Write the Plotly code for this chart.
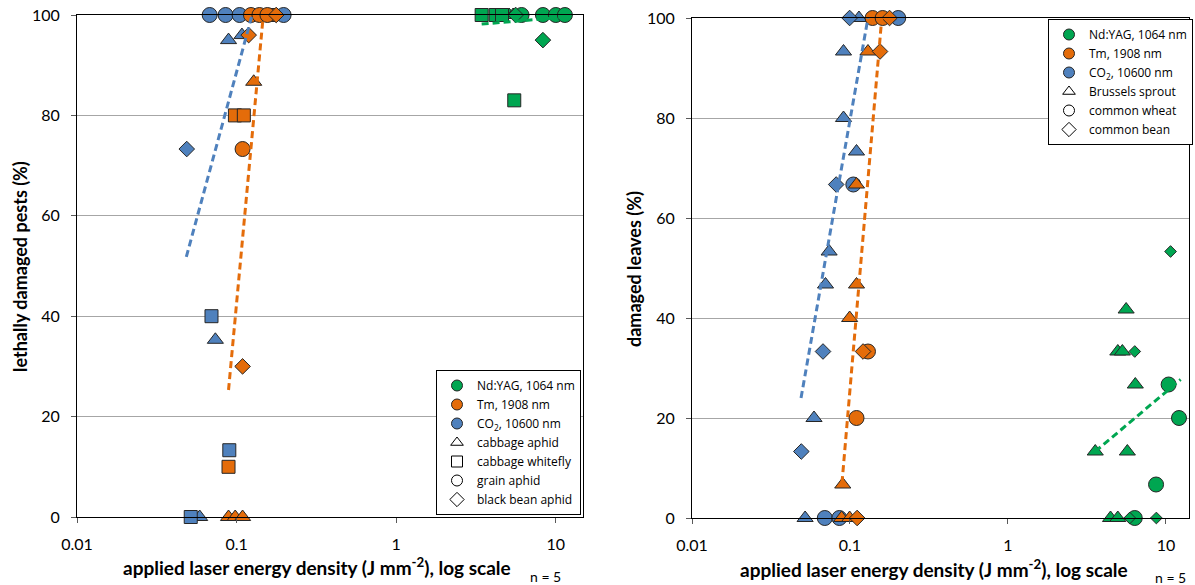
import math
import plotly.graph_objects as go

# ---------------- data: left panel (lethally damaged pests) ----------------
pest_species = ["cabbage aphid", "cabbage whitefly", "grain aphid", "black bean aphid"]

pests_ndyag_x = [4.7, 5.1, 5.4, 3.43, 4.2, 4.6, 5.49, 6.1, 8.3, 10.0, 11.4, 5.6, 8.3]
pests_ndyag_y = [100, 100, 100, 100, 100, 100, 83, 100, 100, 100, 100, 100, 95]
pests_ndyag_s = ["cabbage aphid"] * 3 + ["cabbage whitefly"] * 4 + ["grain aphid"] * 4 + ["black bean aphid"] * 2

pests_tm_x = [0.128, 0.089, 0.098, 0.109, 0.0976, 0.111, 0.089, 0.165, 0.123, 0.139, 0.156, 0.109, 0.119, 0.177, 0.109]
pests_tm_y = [86.7, 0, 0, 0, 80, 80, 10, 100, 100, 100, 100, 73.3, 96, 100, 30]
pests_tm_s = ["cabbage aphid"] * 4 + ["cabbage whitefly"] * 4 + ["grain aphid"] * 4 + ["black bean aphid"] * 3

pests_co2_x = [0.089, 0.108, 0.0736, 0.0587, 0.0696, 0.090, 0.0516, 0.0678, 0.0853, 0.1044, 0.197, 0.0487]
pests_co2_y = [95, 96, 35.3, 0, 40, 13.3, 0, 100, 100, 100, 100, 73.3]
pests_co2_s = ["cabbage aphid"] * 4 + ["cabbage whitefly"] * 3 + ["grain aphid"] * 4 + ["black bean aphid"]

pests_trend_co2_x = [0.0484, 0.124]
pests_trend_co2_y = [51.8, 99.6]
pests_trend_tm_x = [0.089, 0.1466]
pests_trend_tm_y = [25.3, 99.6]
pests_trend_ndyag_x = [3.43, 10.7]
pests_trend_ndyag_y = [98.2, 99.5]

# ---------------- data: right panel (damaged leaves) ----------------
leaf_species = ["Brussels sprout", "common wheat", "common bean"]

leaves_co2_x = [0.114, 0.091, 0.091, 0.110, 0.0738, 0.070, 0.0592, 0.052, 0.202, 0.105, 0.0693, 0.0857, 0.0995, 0.0818, 0.0675, 0.0492]
leaves_co2_y = [100, 93.3, 80, 73.3, 53.3, 46.7, 20, 0, 100, 66.7, 0, 0, 100, 66.7, 33.3, 13.3]
leaves_co2_s = ["Brussels sprout"] * 8 + ["common wheat"] * 4 + ["common bean"] * 4

leaves_tm_x = [0.130, 0.110, 0.110, 0.0995, 0.090, 0.0885, 0.0995, 0.139, 0.161, 0.130, 0.110, 0.178, 0.155, 0.121, 0.111]
leaves_tm_y = [93.3, 66.7, 46.7, 40, 6.7, 0, 0, 100, 100, 33.3, 20, 100, 93.3, 33.3, 0]
leaves_tm_s = ["Brussels sprout"] * 7 + ["common wheat"] * 4 + ["common bean"] * 4

leaves_ndyag_x = [5.6, 4.96, 5.3, 6.4, 3.57, 5.7, 4.46, 4.96, 10.4, 12.1, 8.66, 6.35, 10.7, 6.35, 5.9, 8.7]
leaves_ndyag_y = [41.7, 33.3, 33.3, 26.7, 13.3, 13.3, 0, 0, 26.7, 20, 6.7, 0, 53.3, 33.3, 0, 0]
leaves_ndyag_s = ["Brussels sprout"] * 8 + ["common wheat"] * 4 + ["common bean"] * 4

leaves_trend_co2_x = [0.049, 0.130]
leaves_trend_co2_y = [24, 100]
leaves_trend_tm_x = [0.089, 0.159]
leaves_trend_tm_y = [7, 100]
leaves_trend_ndyag_x = [3.57, 12.4]
leaves_trend_ndyag_y = [13.3, 27.7]

laser_names = ["Nd:YAG, 1064 nm", "Tm, 1908 nm", "CO<sub>2</sub>, 10600 nm"]
x_tick_vals = [0.01, 0.1, 1, 10]
x_tick_text = ["0.01", "0.1", "1", "10"]
y_tick_vals = [0, 20, 40, 60, 80, 100]

# ---------------- styling ----------------
GREEN = "#00A651"
ORANGE = "#E46C0A"
BLUE = "#4F81BD"
EDGE = "#262626"
FONT = "Lato"
LEGFONT = "Open Sans"

pest_symbol = {"cabbage aphid": "triangle-up", "cabbage whitefly": "square",
               "grain aphid": "circle", "black bean aphid": "diamond"}
pest_size = {"cabbage aphid": 14, "cabbage whitefly": 13, "grain aphid": 15, "black bean aphid": 12}
leaf_symbol = {"Brussels sprout": "triangle-up", "common wheat": "circle", "common bean": "diamond"}
leaf_size = {"Brussels sprout": 14, "common wheat": 15, "common bean": 12}

fig = go.Figure()


def add_points(xs, ys, ss, species, symbols, sizes, color, xa, ya, small_diamond=False):
    for sp in species:
        px = [x for x, s in zip(xs, ss) if s == sp]
        py = [y for y, s in zip(ys, ss) if s == sp]
        if not px:
            continue
        size = sizes[sp]
        if small_diamond and symbols[sp] == "diamond":
            size = 9
        fig.add_trace(go.Scatter(
            x=px, y=py, mode="markers", xaxis=xa, yaxis=ya, showlegend=False,
            cliponaxis=False,
            marker=dict(symbol=symbols[sp], size=size, color=color,
                        line=dict(color=EDGE, width=1))))


def add_trend(xs, ys, color, xa, ya):
    fig.add_trace(go.Scatter(x=xs, y=ys, mode="lines", xaxis=xa, yaxis=ya,
                             showlegend=False, cliponaxis=False,
                             line=dict(color=color, width=3, dash="7px,4px")))


# left panel
add_points(pests_co2_x, pests_co2_y, pests_co2_s, pest_species, pest_symbol, pest_size, BLUE, "x", "y")
add_points(pests_tm_x, pests_tm_y, pests_tm_s, pest_species, pest_symbol, pest_size, ORANGE, "x", "y")
add_points(pests_ndyag_x, pests_ndyag_y, pests_ndyag_s, pest_species, pest_symbol, pest_size, GREEN, "x", "y")
add_trend(pests_trend_co2_x, pests_trend_co2_y, BLUE, "x", "y")
add_trend(pests_trend_tm_x, pests_trend_tm_y, ORANGE, "x", "y")
add_trend(pests_trend_ndyag_x, pests_trend_ndyag_y, GREEN, "x", "y")

# right panel
add_points(leaves_co2_x, leaves_co2_y, leaves_co2_s, leaf_species, leaf_symbol, leaf_size, BLUE, "x2", "y2")
add_points(leaves_tm_x, leaves_tm_y, leaves_tm_s, leaf_species, leaf_symbol, leaf_size, ORANGE, "x2", "y2")
add_points(leaves_ndyag_x, leaves_ndyag_y, leaves_ndyag_s, leaf_species, leaf_symbol, leaf_size, GREEN, "x2", "y2",
           small_diamond=True)
add_trend(leaves_trend_co2_x, leaves_trend_co2_y, BLUE, "x2", "y2")
add_trend(leaves_trend_tm_x, leaves_trend_tm_y, ORANGE, "x2", "y2")
add_trend(leaves_trend_ndyag_x, leaves_trend_ndyag_y, GREEN, "x2", "y2")

# legend entries
for leg, species, symbols, xa, ya in [("legend", pest_species, pest_symbol, "x", "y"),
                                      ("legend2", leaf_species, leaf_symbol, "x2", "y2")]:
    for name, col in zip(laser_names, [GREEN, ORANGE, BLUE]):
        fig.add_trace(go.Scatter(x=[None], y=[None], mode="markers", name=name, legend=leg,
                                 xaxis=xa, yaxis=ya,
                                 marker=dict(symbol="circle", size=11, color=col,
                                             line=dict(color=EDGE, width=1))))
    for sp in species:
        fig.add_trace(go.Scatter(x=[None], y=[None], mode="markers", name=sp, legend=leg,
                                 xaxis=xa, yaxis=ya,
                                 marker=dict(symbol=symbols[sp] + "-open", size=11, color="black",
                                             line=dict(color="black", width=1))))

W, H = 1195, 585
L1, R1, L2, R2 = 77, 583, 692, 1189
T1, B1, T2, B2 = 15, 517, 18, 518

xcommon = dict(type="log", tickvals=x_tick_vals, ticktext=x_tick_text, showgrid=False,
               showline=True, linecolor="black", linewidth=1, mirror=True, automargin=False,
               ticks="outside", ticklen=5, tickcolor="#595959", ticklabelstandoff=8,
               tickfont=dict(family=FONT, size=16, color="black"), zeroline=False)
ycommon = dict(range=[0, 100], tickvals=y_tick_vals, showgrid=True, gridcolor="#A6A6A6", gridwidth=1,
               showline=True, linecolor="black", linewidth=1, mirror=True, automargin=False,
               ticks="outside", ticklen=5, tickcolor="#595959", ticklabelstandoff=8,
               tickfont=dict(family=FONT, size=16, color="black"), zeroline=False)


def ann(text, px, py, size, angle=0):
    return dict(text=text, x=px / W, y=1 - py / H, xref="paper", yref="paper", showarrow=False,
                xanchor="center", yanchor="middle", textangle=angle,
                font=dict(family=FONT, size=size, color="black"))


title_x = "<b>applied laser energy density (J mm<sup>-2</sup>), log scale</b>"

fig.update_layout(
    width=W, height=H, margin=dict(l=0, r=0, t=0, b=0, pad=0, autoexpand=False),
    paper_bgcolor="white", plot_bgcolor="white",
    font=dict(family=FONT, color="black"),
    xaxis=dict(xcommon, domain=[L1 / W, R1 / W], range=[-2, math.log10(14.8)], anchor="y"),
    yaxis=dict(ycommon, domain=[1 - B1 / H, 1 - T1 / H], anchor="x"),
    xaxis2=dict(xcommon, domain=[L2 / W, R2 / W], range=[-2, math.log10(14.0)], anchor="y2"),
    yaxis2=dict(ycommon, domain=[1 - B2 / H, 1 - T2 / H], anchor="x2"),
    legend=dict(x=581 / W, y=1 - 515 / H, xanchor="right", yanchor="bottom", itemwidth=30,
                bgcolor="white", bordercolor="black", borderwidth=1,
                font=dict(family=LEGFONT, size=12, color="black"), tracegroupgap=0),
    legend2=dict(x=1193 / W, y=1 - 19 / H, xanchor="right", yanchor="top", itemwidth=30,
                 bgcolor="white", bordercolor="black", borderwidth=1,
                 font=dict(family=LEGFONT, size=12, color="black"), tracegroupgap=0),
    annotations=[
        ann(title_x, 317, 566, 19),
        ann(title_x, 934, 568, 19),
        ann("n = 5", 545, 576, 14),
        ann("n = 5", 1170, 577, 14),
        ann("<b>lethally damaged pests (%)</b>", 20, 267, 18, -90),
        ann("<b>damaged leaves (%)</b>", 634, 269, 18, -90),
    ],
)

fig.write_html("out.html", config={"displayModeBar": False},
               post_script="document.body.style.margin='0';document.body.style.overflow='hidden';")
